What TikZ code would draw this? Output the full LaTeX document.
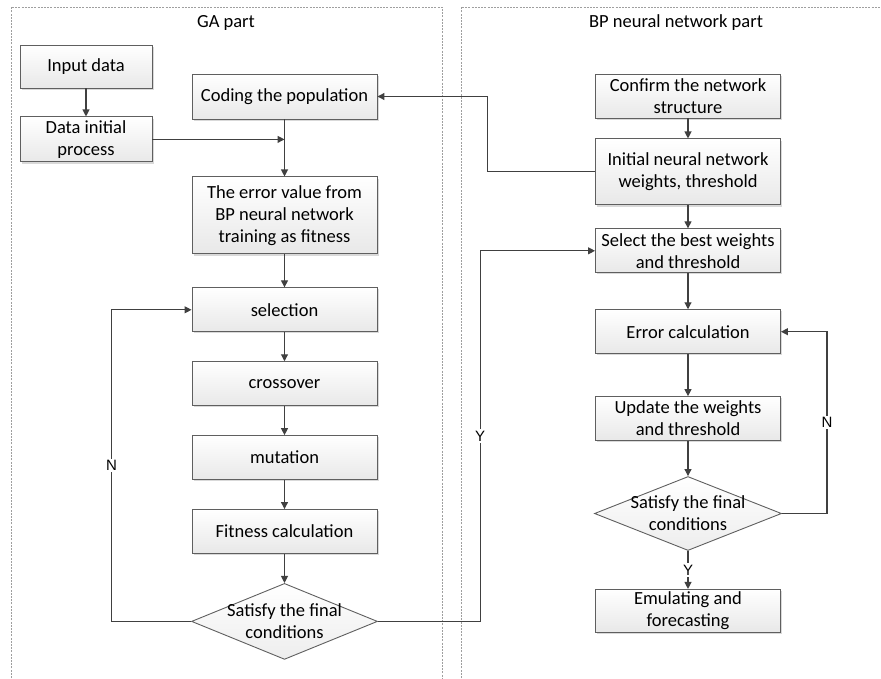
\documentclass[tikz,border=0pt]{standalone}
\usepackage{fontspec}
\setmainfont{Carlito}
\newfontfamily\yesnofont{Liberation Sans}
\usepackage{tikz}
\usetikzlibrary{positioning,shapes.geometric,arrows.meta,shadows}
\definecolor{boxgray}{RGB}{95,95,95}
\definecolor{linegray}{RGB}{64,64,64}

\begin{document}
\begin{tikzpicture}[x=1pt, y=-1pt,
line width=1.1pt, >={Triangle[length=7pt,width=7pt]},
box/.style={rectangle, draw=boxgray, line width=0.9pt, top color=white, bottom color=gray!18,
  drop shadow={shadow xshift=1.6pt, shadow yshift=-1.6pt, opacity=0.3},
  minimum width=185pt, minimum height=44pt, inner sep=0pt, align=center},
smallbox/.style={box, minimum width=132pt, minimum height=43pt},
decision/.style={diamond, draw=boxgray, line width=0.9pt, top color=white, bottom color=gray!14,
  minimum width=186pt, minimum height=76pt, inner sep=0pt},
yn/.style={fill=white, font=\yesnofont\fontsize{15}{18}\selectfont, inner sep=1.5pt},
part/.style={draw=gray!75, line width=0.8pt, dash pattern=on 2pt off 1.2pt}]
\tikzstyle{every node}=[font=\fontsize{18.5}{22}\selectfont]
\useasboundingbox (0,0) rectangle (881,678);

% the two parts
\draw[part] (11,678) -- (11,7) -- (442,7) -- (442,678);
\draw[part] (461,678) -- (461,7) -- (881,7);
\node (ga) at (226,23) {GA part};
\node (bp) at (676,23) {BP neural network part};

% GA part
\node[smallbox] (in1) at (86,66.5) {Input data};
\node[smallbox, minimum height=45pt] (in2) [below=28pt of in1] {Data initial\\process};
\node[box, minimum height=45pt] (ga1) at (284.5,96.5) {Coding the population};
\node[box, minimum height=77pt] (ga2) [below=57pt of ga1] {The error value from\\BP neural network\\training as fitness};
\node[box] (ga3) [below=33pt of ga2] {selection};
\node[box] (ga4) [below=29pt of ga3] {crossover};
\node[box] (ga5) [below=29pt of ga4] {mutation};
\node[box] (ga6) [below=29pt of ga5] {Fitness calculation};
\node[decision, label={[align=center]center:{Satisfy the final\\conditions}}] (ga7) [below=29pt of ga6] {};

% BP neural network part
\node[box] (bp1) at (688,96) {Confirm the network\\structure};
\node[box, minimum height=66pt] (bp2) [below=20pt of bp1] {Initial neural network\\weights, threshold};
\node[box] (bp3) [below=23pt of bp2] {Select the best weights\\and threshold};
\node[box] (bp4) [below=36pt of bp3] {Error calculation};
\node[box] (bp5) [below=42pt of bp4] {Update the weights\\and threshold};
\node[decision, minimum width=187pt, minimum height=74pt,
  label={[align=center]center:{Satisfy the final\\conditions}}] (bp6) [below=35pt of bp5] {};
\node[box, minimum height=43pt] (bp7) [below=38pt of bp6] {Emulating and\\forecasting};

\begin{scope}[draw=linegray]
\draw[->] (in1) -- (in2);
\draw[->] (in2.east) -- (in2.east -| ga1.south);
\draw[->] (ga1) -- (ga2);
\draw[->] (ga2) -- (ga3);
\draw[->] (ga3) -- (ga4);
\draw[->] (ga4) -- (ga5);
\draw[->] (ga5) -- (ga6);
\draw[->] (ga6) -- (ga7);
\draw[->] (ga7.west) -| node[yn, pos=0.75] {N} ([xshift=-80pt]ga3.west) -- (ga3.west);
\draw[->] (ga7.east) -| node[yn, pos=0.75] {Y} ([xshift=-115pt]bp3.west) -- (bp3.west);

\draw[->] (bp1) -- (bp2);
\draw[->] (bp2.west) -- ++(-108,0) |- (ga1.east);
\draw[->] (bp2) -- (bp3);
\draw[->] (bp3) -- (bp4);
\draw[->] (bp4) -- (bp5);
\draw[->] (bp5) -- (bp6);
\draw[->] (bp6) -- node[yn] {Y} (bp7);
\draw[->] (bp6.east) -| node[yn, pos=0.75] {N} ([xshift=46pt]bp4.east) -- (bp4.east);
\end{scope}
\end{tikzpicture}
\end{document}
